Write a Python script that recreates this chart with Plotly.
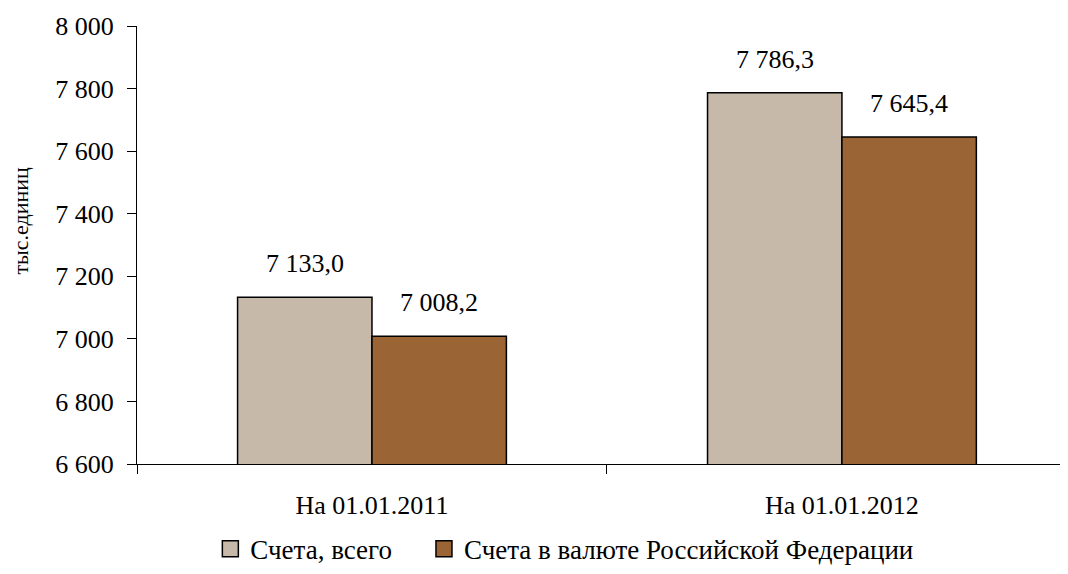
import plotly.graph_objects as go

categories = ["На 01.01.2011", "На 01.01.2012"]
series_names = ["Счета, всего", "Счета в валюте Российской Федерации"]
total_values = [7133.0, 7786.3]
rub_values = [7008.2, 7645.4]
y_ticks = [6600, 6800, 7000, 7200, 7400, 7600, 7800, 8000]

colors = ["#C7B9A9", "#9B6434"]
FONT = "'Liberation Serif', 'Times New Roman', serif"

fig = go.Figure()
for name, vals, col in zip(series_names, [total_values, rub_values], colors):
    fig.add_trace(go.Bar(
        x=categories, y=vals, name=name, showlegend=False,
        marker=dict(color=col, line=dict(color="black", width=1.5)),
    ))
# legend entries with larger square symbols
legend_pad = ["\u00a0" * 4, ""]
for name, col, pad in zip(series_names, colors, legend_pad):
    fig.add_trace(go.Scatter(
        x=[None], y=[None], mode="markers", name=name + pad,
        marker=dict(symbol="square", size=17, color=col, line=dict(color="black", width=1.5)),
    ))

# data labels
for vals, shift in [(total_values, -67), (rub_values, 67)]:
    for c, v in zip(categories, vals):
        fig.add_annotation(x=c, y=v, text=f"{v:,.1f}".replace(",", " ").replace(".", ","),
                           showarrow=False, xshift=shift, yshift=17, yanchor="bottom",
                           font=dict(size=26, family=FONT, color="black"))

fig.add_annotation(xref="paper", yref="paper", x=-0.126, y=0.555, text="тыс.единиц",
                   textangle=-90, showarrow=False, xanchor="center", yanchor="middle",
                   font=dict(size=22, family=FONT, color="black"))

fig.update_layout(
    width=1052, height=558,
    margin=dict(l=129, r=0, t=18, b=102),
    paper_bgcolor="white", plot_bgcolor="white",
    separators=", ",
    barmode="group", bargap=0.428, bargroupgap=0,
    font=dict(family=FONT, size=26, color="black"),
    showlegend=True,
    legend=dict(orientation="h", x=0.463, xanchor="center",
                yref="container", y=0.03, yanchor="middle",
                font=dict(size=27), itemwidth=30, tracegroupgap=0, itemsizing="trace"),
    xaxis=dict(
        type="category", range=[-0.5, 1.464], tickson="boundaries", automargin=False,
        ticks="outside", ticklen=9, tickcolor="black", tickwidth=1,
        showline=True, linecolor="black", linewidth=1, showgrid=False,
        tickfont=dict(size=26), ticklabelstandoff=18,
    ),
    yaxis=dict(
        range=[6600, 8000], tickvals=y_ticks, tickformat=",d", automargin=False,
        ticks="outside", ticklen=9, tickcolor="black", tickwidth=1,
        showline=True, linecolor="black", linewidth=1, showgrid=False,
        zeroline=False, tickfont=dict(size=26), ticklabelstandoff=8,
    ),
)

fig.write_html("out.html")
